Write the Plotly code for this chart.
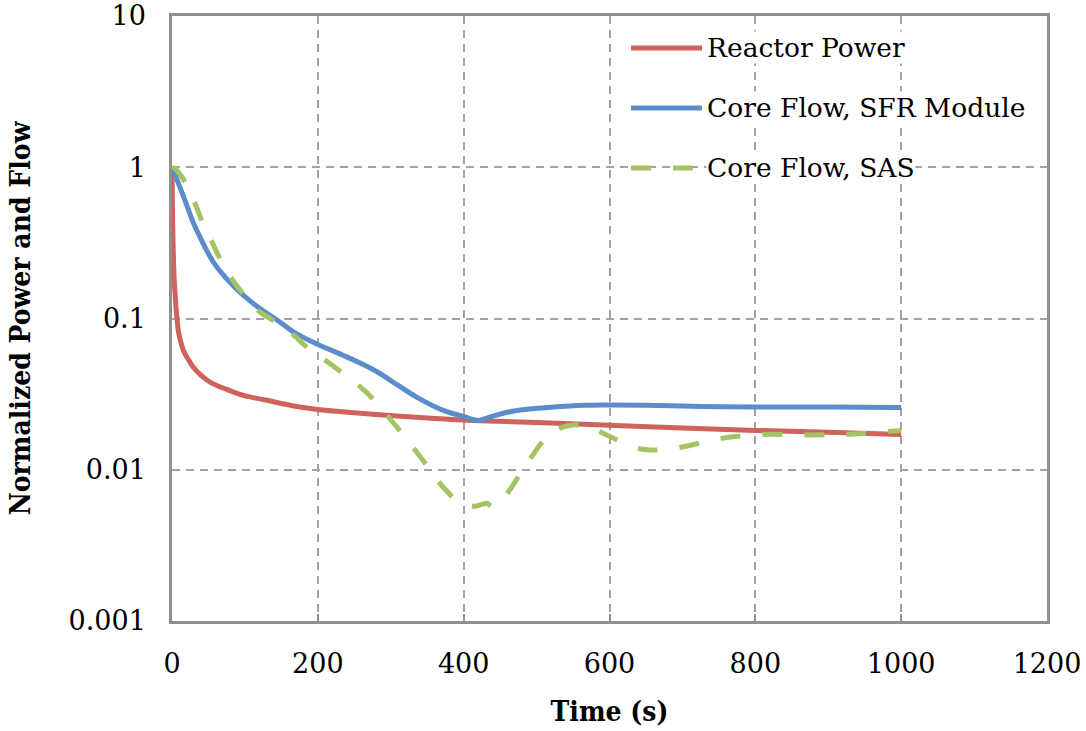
import plotly.graph_objects as go

# ---- data ----
time_power = [0, 0.5, 1, 2, 3, 4.5, 5.5, 8.7, 12, 15.6, 22, 29, 40, 52, 75, 98, 130, 165, 200,
              250, 300, 350, 400, 450, 500, 600, 700, 800, 900, 1000]
reactor_power = [1.0, 0.6, 0.4, 0.25, 0.18, 0.14, 0.119, 0.083, 0.07, 0.0615, 0.054, 0.0478,
                 0.042, 0.038, 0.034, 0.031, 0.0288, 0.0265, 0.025, 0.0238, 0.0228, 0.022,
                 0.0213, 0.0209, 0.0205, 0.0197, 0.0189, 0.0182, 0.0177, 0.0171]

time_core = [0, 2, 8, 18, 29, 43, 57, 75, 98, 121, 145, 167, 190, 212, 235, 258, 280, 299, 336,
             372, 400, 419, 440, 460, 490, 519, 565, 600, 650, 725, 800, 900, 1000]
core_flow_sfr = [0.97, 0.94, 0.80, 0.60, 0.433, 0.311, 0.235, 0.183, 0.142, 0.116, 0.097,
                 0.0813, 0.071, 0.0635, 0.057, 0.0508, 0.0448, 0.0392, 0.0301, 0.0247, 0.0225,
                 0.0212, 0.0226, 0.024, 0.0252, 0.0259, 0.0267, 0.0268, 0.0267, 0.0262, 0.026,
                 0.026, 0.0258]

time_sas = [0, 5, 15, 25, 34, 41, 54, 66, 82, 96, 121, 139, 167, 185, 217, 256, 268, 304, 341,
            372, 391, 414, 425, 432, 439, 450, 460, 487, 519, 547, 570, 597, 633, 657, 698,
            753, 808, 872, 931, 1000]
core_flow_sas = [1.0, 0.97, 0.84, 0.68, 0.54, 0.44, 0.327, 0.248, 0.183, 0.149, 0.110, 0.097,
                 0.0773, 0.0646, 0.0502, 0.0361, 0.032, 0.0203, 0.0121, 0.00766, 0.0063,
                 0.00574, 0.0059, 0.0060, 0.0057, 0.0062, 0.0070, 0.011, 0.0174, 0.0197,
                 0.0193, 0.0169, 0.0141, 0.0135, 0.0141, 0.0161, 0.0171, 0.017, 0.0172, 0.0182]

series_names = ["Reactor Power", "Core Flow, SFR Module", "Core Flow, SAS"]
x_ticks = [0, 200, 400, 600, 800, 1000, 1200]
y_ticks = [0.001, 0.01, 0.1, 1, 10]
y_ticktext = ["0.001", "0.01", "0.1", "1", "10"]

RED = "#CF625C"
BLUE = "#5A8DCA"
GREEN = "#A4C464"
SAS_DASH = "20px,22px"
GRID = "#A3A3A3"
FRAME = "#8F8F8F"
FONT = "DejaVu Serif"
TITLE_FONT = "DejaVu Serif Condensed, DejaVu Serif"

fig = go.Figure()
fig.add_trace(go.Scatter(x=time_power, y=reactor_power, mode="lines", name=series_names[0],
                         line=dict(color=RED, width=5, shape="spline", smoothing=1.0)))
fig.add_trace(go.Scatter(x=time_core, y=core_flow_sfr, mode="lines", name=series_names[1],
                         line=dict(color=BLUE, width=5, shape="spline", smoothing=1.0)))
fig.add_trace(go.Scatter(x=time_sas, y=core_flow_sas, mode="lines", name=series_names[2],
                         line=dict(color=GREEN, width=5, dash=SAS_DASH, shape="spline",
                                   smoothing=1.0)))

# ---- custom legend (samples + labels, in paper coordinates) ----
L, R, T, B = 172, 39, 16, 110
W, H = 1086, 731
pw, ph = W - L - R, H - T - B
def px(x):
    return (x - L) / pw
def py(y):
    return (H - B - y) / ph

legend_rows = [48, 108, 168]
legend_styles = [dict(color=RED, width=5), dict(color=BLUE, width=5),
                 dict(color=GREEN, width=5, dash=SAS_DASH)]
for name, yrow, st in zip(series_names, legend_rows, legend_styles):
    fig.add_shape(type="line", xref="paper", yref="paper", x0=px(631), x1=px(702),
                  y0=py(yrow), y1=py(yrow), line=st, layer="above")
    fig.add_annotation(xref="paper", yref="paper", x=px(706), y=py(yrow), text=name,
                       showarrow=False, xanchor="left", yanchor="middle",
                       font=dict(family=FONT, size=26.5, color="black"),
                       bgcolor="white", borderpad=0)

fig.update_layout(
    width=W, height=H,
    margin=dict(l=L, r=R, t=T, b=B, pad=0, autoexpand=False),
    paper_bgcolor="white", plot_bgcolor="white",
    showlegend=False,
    font=dict(family=FONT, size=26, color="black"),
)
fig.update_xaxes(
    range=[0, 1200], tickvals=x_ticks, ticktext=[str(v) for v in x_ticks],
    showgrid=True, gridcolor=GRID, gridwidth=1.5, griddash="8px,6px",
    showline=True, linecolor=FRAME, linewidth=2.5, mirror=True,
    ticks="inside", ticklen=7, tickcolor=FRAME, tickwidth=1.5,
    ticklabelstandoff=17, zeroline=False, automargin=False,
    tickfont=dict(family=FONT, size=27, color="black"),
    title=dict(text="<b>Time (s)</b>", font=dict(family=TITLE_FONT, size=28, color="black"),
               standoff=24),
)
fig.update_yaxes(
    type="log", range=[-3, 1], tickvals=y_ticks, ticktext=y_ticktext,
    showgrid=True, gridcolor=GRID, gridwidth=1.5, griddash="8px,6px",
    showline=True, linecolor=FRAME, linewidth=2.5, mirror=True,
    ticks="", ticklabelstandoff=18, zeroline=False, automargin=False,
    tickfont=dict(family=FONT, size=27, color="black"),
    title=dict(text="<b>Normalized Power and Flow</b>",
               font=dict(family=TITLE_FONT, size=28, color="black"), standoff=30),
)

fig.write_html("out.html")
